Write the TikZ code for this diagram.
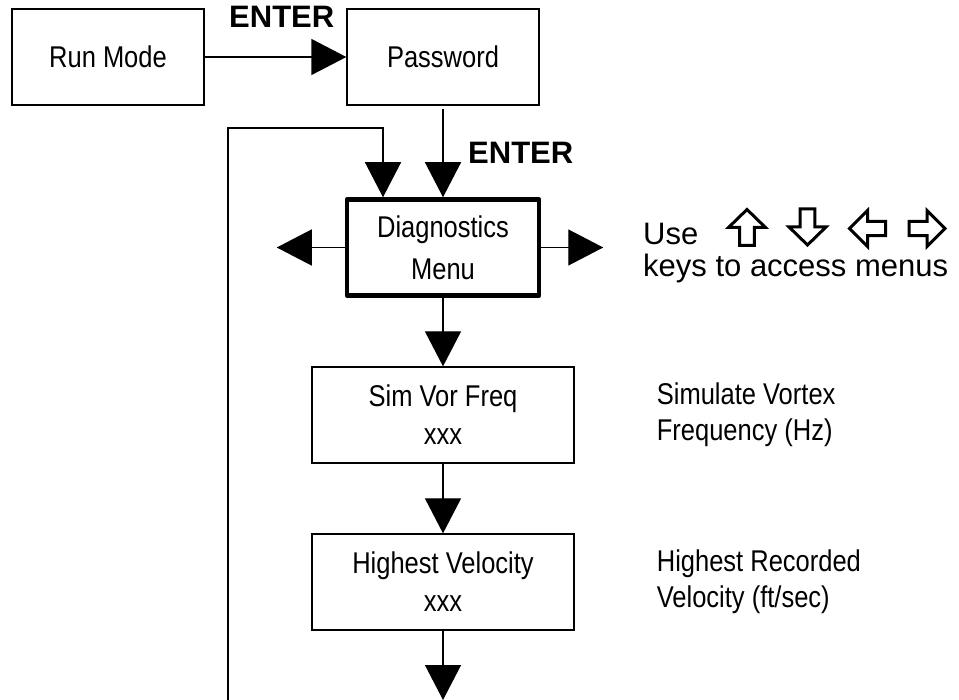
\documentclass[tikz,border=0pt]{standalone}
\usepackage{fontspec}
\setmainfont{Liberation Sans}
\newfontfamily\narrowfont[FakeStretch=0.85]{Liberation Sans}
\usepackage{xcolor}
\usepackage{tikz}
\usetikzlibrary{arrows.meta}

\tikzset{
    menubox/.style={draw,line width=1.3pt,minimum width=192pt,minimum height=96pt,inner sep=0pt,align=center,font=\narrowfont\fontsize{30}{38}\selectfont},
    widebox/.style={menubox,minimum width=262pt},
    note/.style={inner sep=0pt,anchor=west,align=left,font=\narrowfont\fontsize{30}{36}\selectfont},
    keytext/.style={inner sep=0pt,anchor=base west,font=\fontsize{31}{32}\selectfont},
    enter/.style={inner sep=0pt,anchor=base west,font=\bfseries\fontsize{31}{32}\selectfont},
    flow/.style={line width=1.3pt,-{Triangle[length=35pt,width=36pt]}},
    keyarrow/.pic={\draw[line width=3pt] (0,1) -- (1,0) -- (0.4,0) -- (0.4,-1) -- (-0.4,-1) -- (-0.4,0) -- (-1,0) -- cycle;}
}

\begin{document}
\begin{tikzpicture}[x=1pt,y=1pt]
    \useasboundingbox (0,0) rectangle (959,-700);
    \node[menubox] (run) at (108,-57) {Run Mode};
    \node[menubox] (pass) at (443,-57) {Password};
    \node[menubox,line width=4.5pt,line join=round,font=\narrowfont\fontsize{30}{42}\selectfont] (diag) at (443,-247.5) {Diagnostics\\Menu};
    \node[widebox] (sim) at (443,-415) {Sim Vor Freq\\xxx};
    \node[widebox] (hv) at (443,-582) {Highest Velocity\\xxx};
    \node[note] (simnote) at ([xshift=82pt]sim.east) {Simulate Vortex\\Frequency (Hz)};
    \node[note] (hvnote) at ([xshift=82pt]hv.east) {Highest Recorded\\Velocity (ft/sec)};
    \node[enter] (enterrun) at (229,-28) {ENTER};
    \node[enter] (enterpass) at (468,-164) {ENTER};
    \node[keytext] (use) at (643,-245) {Use};
    \node[keytext] (keys) at (643,-277) {keys to access menus};
    \pic[xscale=18.5,yscale=18] at (747,-227.5) {keyarrow};
    \pic[rotate=180,xscale=18.5,yscale=18] at (807.5,-227) {keyarrow};
    \pic[rotate=90,xscale=18,yscale=18] at (867.5,-228.5) {keyarrow};
    \pic[rotate=-90,xscale=18,yscale=18] at (927,-228.5) {keyarrow};
    \coordinate (loopfoot) at (228,-700);
    \coordinate (loophead) at (383,-128);
    \coordinate (diagleft) at ([xshift=-68pt]diag.west);
    \coordinate (diagright) at ([xshift=62pt]diag.east);
    \coordinate (hvend) at (443,-700);
    \draw[flow] (run) -- (pass);
    \draw[flow,shorten <=3pt] (pass) -- (diag);
    \draw[flow] (loopfoot) |- (loophead) -- (loophead |- diag.north);
    \draw[flow] (diag) -- (diagleft);
    \draw[flow] (diag) -- (diagright);
    \draw[flow] (diag) -- (sim);
    \draw[flow] (sim) -- (hv);
    \draw[flow] (hv) -- (hvend);
\end{tikzpicture}
\end{document}
